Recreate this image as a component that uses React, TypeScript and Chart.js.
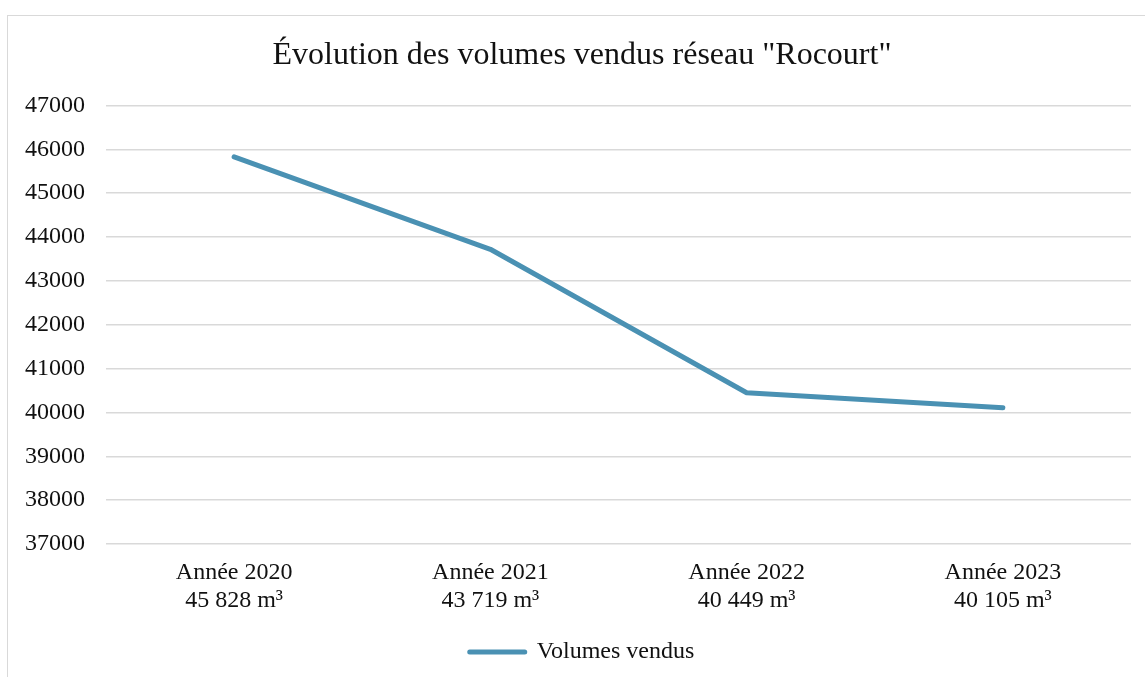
import React, { useEffect, useRef } from "react";
import { Chart, registerables } from "chart.js";

Chart.register(...registerables);

const title = 'Évolution des volumes vendus réseau "Rocourt"';
const categories: string[][] = [
  ["Année 2020", "45 828 m³"],
  ["Année 2021", "43 719 m³"],
  ["Année 2022", "40 449 m³"],
  ["Année 2023", "40 105 m³"],
];
const seriesName = "Volumes vendus";
const volumes = [45828, 43719, 40449, 40105];
const yMin = 37000;
const yMax = 47000;
const yStep = 1000;

const FONT = '"Liberation Serif", "Times New Roman", serif';
const LINE = "#4a91b3";
const TEXT = "#111111";

// shifts the title and legend boxes so they centre like the reference
const shiftBoxes = {
  id: "shiftBoxes",
  afterLayout(chart: any) {
    if (chart.titleBlock) chart.titleBlock.left += 25;
    if (chart.legend) chart.legend.left += 25;
  },
};

export default function App() {
  const ref = useRef<HTMLCanvasElement | null>(null);
  useEffect(() => {
    if (!ref.current) return;
    const chart = new Chart(ref.current, {
      type: "line",
      data: {
        labels: categories,
        datasets: [
          {
            label: seriesName,
            data: volumes,
            borderColor: LINE,
            backgroundColor: LINE,
            borderWidth: 5,
            borderCapStyle: "round",
            borderJoinStyle: "round",
            pointRadius: 0,
            tension: 0,
          },
        ],
      },
      plugins: [shiftBoxes],
      options: {
        animation: false,
        responsive: false,
        layout: { padding: { left: 0, right: 17, top: 0, bottom: 0 } },
        plugins: {
          title: {
            display: true,
            text: title,
            color: TEXT,
            font: { family: FONT, size: 32, weight: "normal", lineHeight: 1.2 },
            padding: { top: 20, bottom: 31 },
          },
          legend: {
            position: "bottom",
            labels: {
              color: TEXT,
              font: { family: FONT, size: 24 },
              usePointStyle: true,
              pointStyle: "line",
              pointStyleWidth: 55,
              boxHeight: 24,
              padding: 10,
              generateLabels: (c: any) =>
                c.data.datasets.map((ds: any, i: number) => ({
                  text: ds.label,
                  fillStyle: LINE,
                  strokeStyle: LINE,
                  lineWidth: 5,
                  lineCap: "round",
                  pointStyle: "line",
                  datasetIndex: i,
                  fontColor: TEXT,
                })),
            },
          },
          tooltip: { enabled: false },
        },
        scales: {
          x: {
            offset: true,
            grid: { display: false, drawTicks: false },
            border: { display: false },
            ticks: {
              color: TEXT,
              font: { family: FONT, size: 24, lineHeight: 1.167 },
              padding: 15,
              maxRotation: 0,
              autoSkip: false,
            },
          },
          y: {
            min: yMin,
            max: yMax,
            grid: { color: "#d9d9d9", lineWidth: 1.5, drawTicks: false },
            border: { display: false },
            ticks: {
              stepSize: yStep,
              color: TEXT,
              font: { family: FONT, size: 24 },
              padding: 21,
              callback: (v: any) => String(v),
            },
            afterFit: (s: any) => {
              s.width = 98;
            },
          },
        },
      },
    });
    return () => chart.destroy();
  }, []);
  return (
    <div
      style={{
        position: "fixed",
        left: 7,
        top: 15,
        width: 1160,
        height: 700,
        border: "1px solid #d9d9d9",
        background: "#fff",
      }}
    >
      <canvas ref={ref} width={1140} height={658} style={{ display: "block" }} />
    </div>
  );
}
